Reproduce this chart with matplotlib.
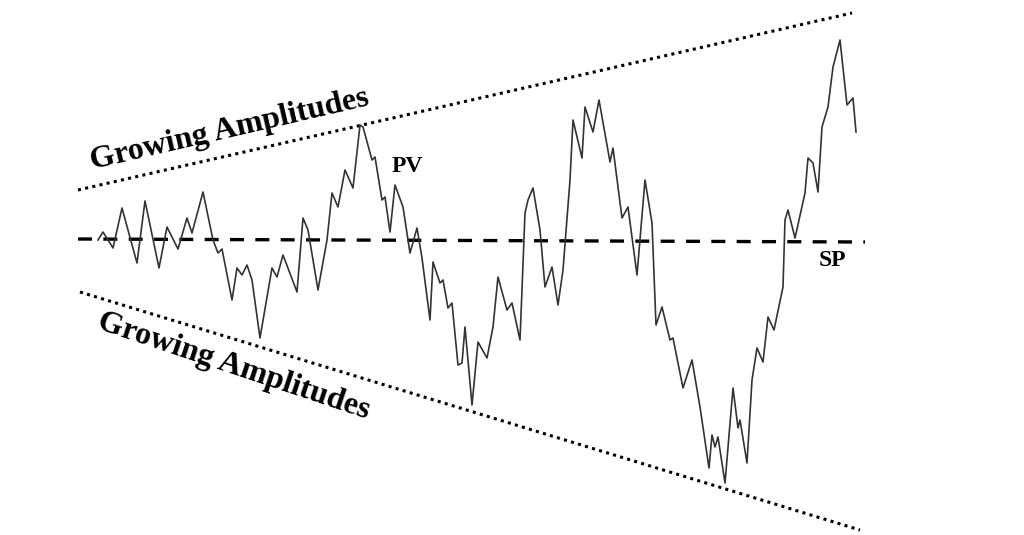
import matplotlib.pyplot as plt

# process variable trace in pixel coordinates (y grows downward)
pv_x = [98, 103, 113, 122, 137, 145, 159, 167, 178, 187, 192, 203, 213, 218, 222,
        232, 237, 242, 247, 252, 260, 272, 277, 283, 297, 303, 308, 318, 327, 332,
        338, 345, 353, 360, 363, 372, 375, 382, 385, 390, 395, 403, 410, 417, 422,
        430, 433, 440, 443, 448, 452, 458, 462, 465, 472, 478, 487, 493, 498, 507,
        512, 520, 525, 528, 533, 540, 545, 552, 558, 563, 570, 573, 582, 585, 593,
        599, 610, 613, 622, 628, 637, 645, 652, 656, 662, 670, 673, 683, 692, 700,
        709, 712, 715, 718, 725, 733, 738, 740, 747, 752, 757, 763, 768, 774, 783,
        785, 788, 795, 805, 808, 813, 818, 822, 828, 833, 840, 847, 853, 856]
pv_y = [240, 232, 248, 208, 263, 201, 268, 227, 249, 218, 233, 192, 240, 253, 249,
        300, 268, 275, 265, 280, 338, 268, 277, 255, 292, 218, 230, 290, 240, 193,
        207, 170, 188, 125, 127, 160, 157, 200, 197, 232, 185, 207, 253, 228, 258,
        320, 262, 283, 280, 308, 303, 365, 363, 327, 405, 342, 358, 327, 277, 310,
        303, 340, 213, 200, 188, 230, 287, 267, 305, 270, 180, 120, 158, 107, 132,
        100, 162, 148, 218, 207, 275, 180, 223, 325, 307, 340, 338, 388, 360, 407,
        468, 435, 447, 437, 483, 388, 428, 420, 463, 380, 348, 362, 317, 330, 287,
        220, 210, 238, 193, 158, 163, 192, 127, 107, 67, 40, 105, 98, 132]

# set point line and the two envelope lines (end points)
sp_x = [78, 865]
sp_y = [239, 242]
upper_x = [78, 852]
upper_y = [190, 13]
lower_x = [80, 860]
lower_y = [292, 530]

fig = plt.figure(figsize=(10.24, 5.35), dpi=100)
ax = fig.add_axes([0, 0, 1, 1])
ax.set_xlim(0, 1024)
ax.set_ylim(535, 0)
ax.axis('off')

ax.plot(upper_x, upper_y, color='black', lw=2.2, linestyle=(0, (1, 1.4)))
ax.plot(lower_x, lower_y, color='black', lw=2.2, linestyle=(0, (1, 1.4)))
ax.plot(sp_x, sp_y, color='black', lw=2.4, linestyle=(0, (4.2, 3.4)))
ax.plot(pv_x, pv_y, color='#333333', lw=1.2)

txt = dict(family='Liberation Serif', weight='bold', color='black',
           rotation_mode='anchor', ha='left', va='baseline')
ax.text(92, 169, 'Growing Amplitudes', fontsize=23, rotation=13.0, **txt)
ax.text(96, 328, 'Growing Amplitudes', fontsize=23, rotation=-18.5, **txt)
ax.text(407, 166, 'PV', fontsize=17, family='Liberation Serif', weight='bold',
        ha='center', va='center')
ax.text(832, 260, 'SP', fontsize=17, family='Liberation Serif', weight='bold',
        ha='center', va='center')

fig.savefig('out.png', dpi=100)
